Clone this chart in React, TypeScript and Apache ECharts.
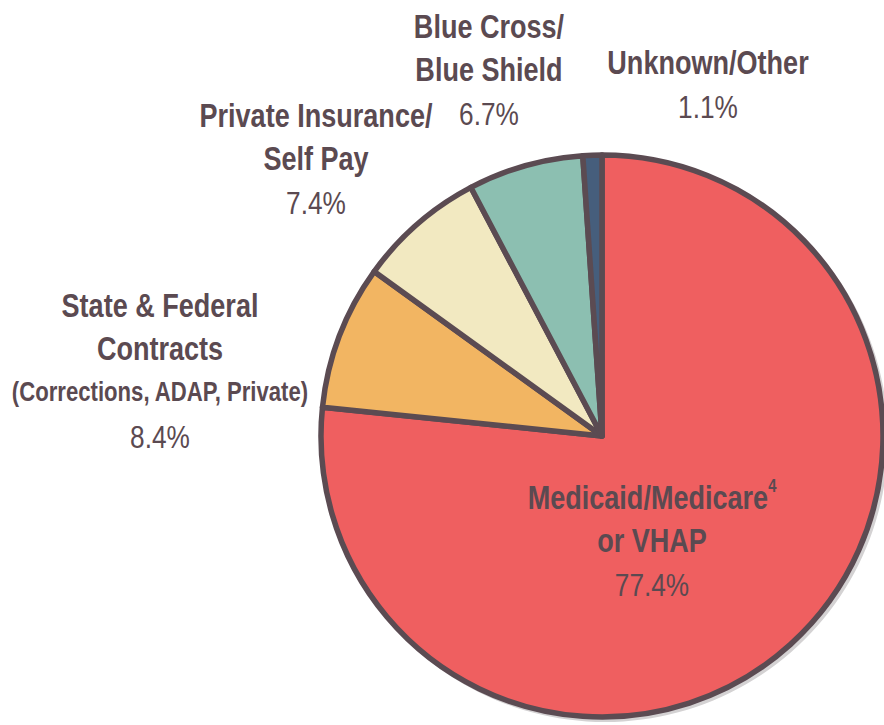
import React, { useEffect, useRef } from "react";
import * as echarts from "echarts";

const categories = [
  "Medicaid/Medicare⁴\nor VHAP",
  "State & Federal\nContracts",
  "Private Insurance/\nSelf Pay",
  "Blue Cross/\nBlue Shield",
  "Unknown/Other",
];
const notes = ["", "(Corrections, ADAP, Private)", "", "", ""];
const values = [77.4, 8.4, 7.4, 6.7, 1.1];
const colors = ["#ef5f60", "#f2b562", "#f2e9c1", "#8cbfb1", "#465e7c"];

const TEXT = "#5b4a51";
const FONT = "'Liberation Sans', Arial, sans-serif";
const CONDENSE = 0.82;

// label anchors (center x, top y)
const labelPos: [number, number][] = [
  [652, 476],
  [160, 284],
  [316, 94],
  [489, 5],
  [708, 41],
];

function labelText(i: number): string {
  const lines = categories[i]
    .split("\n")
    .map((l) => `{b|${l}}`.replace("⁴", "}{sup|4}{b|").replace("{b|}", ""));
  if (notes[i]) lines.push(`{s|${notes[i]}}`);
  lines.push(`{p|${values[i].toFixed(1)}%}`);
  return lines.join("\n");
}

export default function App() {
  const ref = useRef<HTMLDivElement>(null);
  useEffect(() => {
    document.body.style.margin = "0";
    const chart = echarts.init(ref.current!, undefined, { renderer: "svg" });
    const rich = {
      b: { fontFamily: FONT, fontWeight: "bold", fontSize: 33, lineHeight: 43, fill: TEXT, color: TEXT },
      sup: {
        fontFamily: FONT,
        fontWeight: "bold",
        fontSize: 18,
        lineHeight: 36,
        verticalAlign: "top",
        fill: TEXT,
        color: TEXT,
      },
      s: { fontFamily: FONT, fontWeight: "bold", fontSize: 27, lineHeight: 44, fill: TEXT, color: TEXT },
      p: { fontFamily: FONT, fontWeight: "normal", fontSize: 32, lineHeight: 46, fill: TEXT, color: TEXT },
    };
    chart.setOption({
      animation: false,
      backgroundColor: "#ffffff",
      series: [
        {
          type: "pie",
          silent: true,
          z: 1,
          center: [605, 439],
          radius: 283,
          label: { show: false },
          labelLine: { show: false },
          itemStyle: { color: "#d4d2d3", borderWidth: 0 },
          data: [{ value: 1, name: "shadow" }],
        },
        {
          type: "pie",
          z: 2,
          center: [602, 436],
          radius: 281,
          startAngle: 90,
          clockwise: true,
          itemStyle: { borderColor: "#5b4b52", borderWidth: 5.5 },
          label: { show: false },
          labelLine: { show: false },
          data: categories.map((c, i) => ({
            name: c,
            value: values[i],
            itemStyle: { color: colors[i] },
          })),
        },
      ],
      graphic: {
        elements: categories.map((_, i) => ({
          type: "group",
          x: labelPos[i][0],
          y: labelPos[i][1],
          scaleX: CONDENSE,
          z: 100,
          children: [
            {
              type: "text",
              z: 100,
              zlevel: 0,
              style: {
                text: labelText(i),
                rich,
                fontFamily: FONT,
                fontSize: 32,
                fill: TEXT,
                align: "center",
                verticalAlign: "top",
              },
            },
          ],
        })),
      },
    });
    return () => chart.dispose();
  }, []);
  return <div ref={ref} style={{ width: 884, height: 725 }} />;
}
